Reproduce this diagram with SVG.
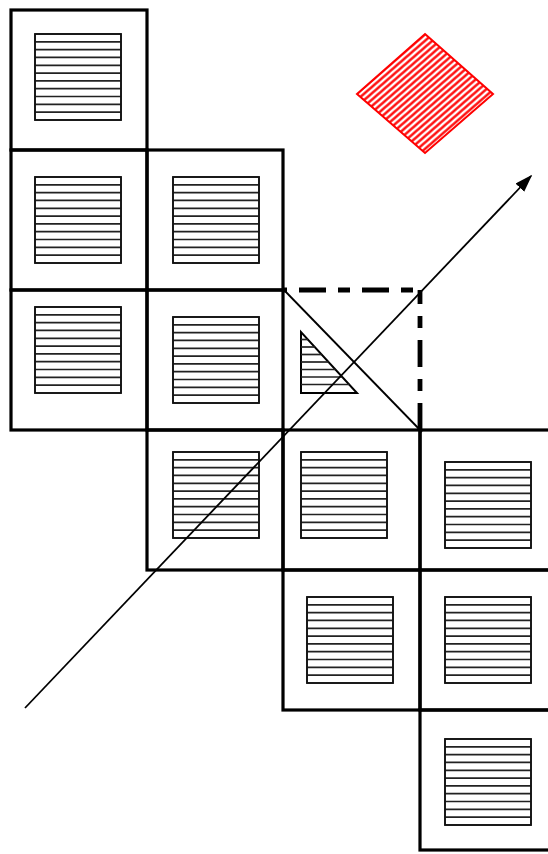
<svg xmlns="http://www.w3.org/2000/svg" xmlns:xlink="http://www.w3.org/1999/xlink" width="548" height="854" viewBox="0 0 548 854">
<style>
.cell{fill:none;stroke:#000;stroke-width:3.2}
.dash{fill:none;stroke:#000;stroke-width:4.8;stroke-dasharray:27 12 12 12}
.hsq{fill:#fff;stroke:#111;stroke-width:1.6}
.hl{stroke:#222;stroke-width:1.7}
.conn{stroke:#000;stroke-width:1.8;fill:none}
</style>
<defs>
<g id="hs">
<rect class="hsq" x="0" y="0" width="86" height="86"/>
<g class="hl">
<line x1="0" y1="7.8" x2="86" y2="7.8"/>
<line x1="0" y1="15.6" x2="86" y2="15.6"/>
<line x1="0" y1="23.4" x2="86" y2="23.4"/>
<line x1="0" y1="31.3" x2="86" y2="31.3"/>
<line x1="0" y1="39.1" x2="86" y2="39.1"/>
<line x1="0" y1="46.9" x2="86" y2="46.9"/>
<line x1="0" y1="54.7" x2="86" y2="54.7"/>
<line x1="0" y1="62.5" x2="86" y2="62.5"/>
<line x1="0" y1="70.4" x2="86" y2="70.4"/>
<line x1="0" y1="78.2" x2="86" y2="78.2"/>
</g>
<rect x="0" y="0" width="86" height="86" fill="none" stroke="#111" stroke-width="1.6"/>
</g>
<pattern id="redhatch" patternUnits="userSpaceOnUse" width="4.8" height="4.8" patternTransform="rotate(-41)">
<line x1="0" y1="2.4" x2="4.8" y2="2.4" stroke="#f00" stroke-width="2.3"/>
</pattern>
<marker id="ah" viewBox="0 0 10 10" refX="9" refY="5" markerWidth="18" markerHeight="12" markerUnits="userSpaceOnUse" orient="auto" preserveAspectRatio="none">
<path d="M0,0 L10,5 L0,10 z" fill="#000"/>
</marker>
</defs>

<g id="grid">
<rect class="cell" x="11" y="10" width="136" height="140"/>
<rect class="cell" x="11" y="150" width="136" height="140"/>
<rect class="cell" x="147" y="150" width="136" height="140"/>
<rect class="cell" x="11" y="290" width="136" height="140"/>
<rect class="cell" x="147" y="290" width="136" height="140"/>
<rect class="cell" x="147" y="430" width="136" height="140"/>
<rect class="cell" x="283" y="430" width="137" height="140"/>
<rect class="cell" x="420" y="430" width="140" height="140"/>
<rect class="cell" x="283" y="570" width="137" height="140"/>
<rect class="cell" x="420" y="570" width="140" height="140"/>
<rect class="cell" x="420" y="710" width="140" height="140"/>
</g>

<g id="dashed-cell">
<line class="dash" x1="283" y1="290" x2="420" y2="290" style="stroke-dashoffset:47"/>
<line class="dash" x1="420" y1="290" x2="420" y2="432" style="stroke-dashoffset:13"/>
</g>

<g id="squares">
<use xlink:href="#hs" x="35" y="34"/>
<use xlink:href="#hs" x="35" y="177"/>
<use xlink:href="#hs" x="173" y="177"/>
<use xlink:href="#hs" x="35" y="307"/>
<use xlink:href="#hs" x="173" y="317"/>
<use xlink:href="#hs" x="173" y="452"/>
<use xlink:href="#hs" x="301" y="452"/>
<use xlink:href="#hs" x="445" y="462"/>
<use xlink:href="#hs" x="307" y="597"/>
<use xlink:href="#hs" x="445" y="597"/>
<use xlink:href="#hs" x="445" y="739"/>
</g>

<g id="triangle">
<path d="M301,332 L301,393 L357,393 Z" fill="#fff" stroke="#000" stroke-width="2"/>
<g class="hl">
<line x1="301" y1="339.5" x2="307.9" y2="339.5"/>
<line x1="301" y1="347" x2="314.8" y2="347"/>
<line x1="301" y1="354.5" x2="321.7" y2="354.5"/>
<line x1="301" y1="362" x2="328.5" y2="362"/>
<line x1="301" y1="369.5" x2="335.4" y2="369.5"/>
<line x1="301" y1="377" x2="342.3" y2="377"/>
<line x1="301" y1="384.5" x2="349.2" y2="384.5"/>
</g>
</g>

<g id="diamond">
<path d="M425,34 L493,94 L425,153 L357,94 Z" fill="url(#redhatch)" stroke="#f00" stroke-width="2"/>
</g>

<g id="connectors">
<line class="conn" x1="284" y1="290" x2="422" y2="432"/>
<line class="conn" x1="25" y1="708" x2="531" y2="176" marker-end="url(#ah)"/>
</g>
</svg>
